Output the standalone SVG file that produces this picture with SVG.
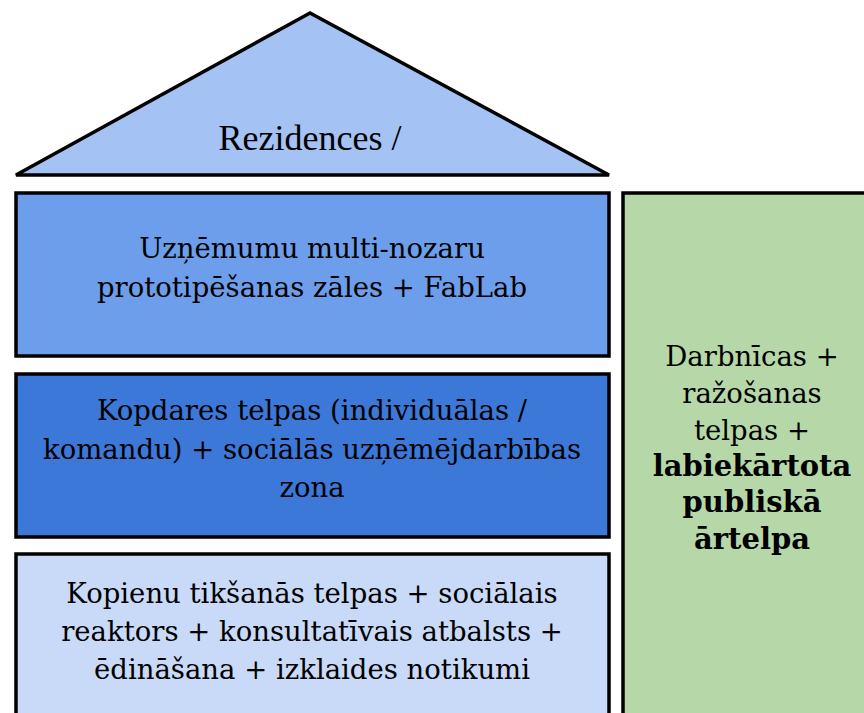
<svg xmlns="http://www.w3.org/2000/svg" width="864" height="713" viewBox="0 0 864 713">
<style>
.s{stroke:#000;stroke-width:3.5;stroke-linejoin:miter}
.t{font-family:"DejaVu Serif","Liberation Serif",serif;font-size:27.5px;fill:#000;text-anchor:middle}
.b{font-weight:bold;font-size:29px}
.r{font-family:"Liberation Serif",serif;font-size:36px}
</style>
<rect width="864" height="713" fill="#fff"/>
<g id="roof">
<polygon class="s" points="310,13 16,175 609,175" fill="#a4c2f4"/>
<text class="t r" x="310" y="150">Rezidences /</text>
</g>
<g id="floor3">
<rect class="s" x="16" y="193" width="593" height="163" fill="#6d9eeb"/>
<text class="t" x="312" y="258">Uzņēmumu multi-nozaru</text>
<text class="t" x="312" y="297">prototipēšanas zāles + FabLab</text>
</g>
<g id="floor2">
<rect class="s" x="16" y="374" width="593" height="163" fill="#3c78d8"/>
<text class="t" x="312" y="420">Kopdares telpas (individuālas /</text>
<text class="t" x="312" y="459">komandu) + sociālās uzņēmējdarbības</text>
<text class="t" x="312" y="497">zona</text>
</g>
<g id="floor1">
<rect class="s" x="16" y="554" width="593" height="175" fill="#c9daf8"/>
<text class="t" x="312" y="603">Kopienu tikšanās telpas + sociālais</text>
<text class="t" x="312" y="641">reaktors + konsultatīvais atbalsts +</text>
<text class="t" x="312" y="679">ēdināšana + izklaides notikumi</text>
</g>
<g id="side">
<rect class="s" x="623" y="193" width="260" height="540" fill="#b6d7a8"/>
<text class="t" x="752" y="366">Darbnīcas +</text>
<text class="t" x="752" y="403">ražošanas</text>
<text class="t" x="752" y="440">telpas +</text>
<text class="t b" x="752" y="476">labiekārtota</text>
<text class="t b" x="752" y="512">publiskā</text>
<text class="t b" x="752" y="549">ārtelpa</text>
</g>
<g id="connectors"/>
</svg>
